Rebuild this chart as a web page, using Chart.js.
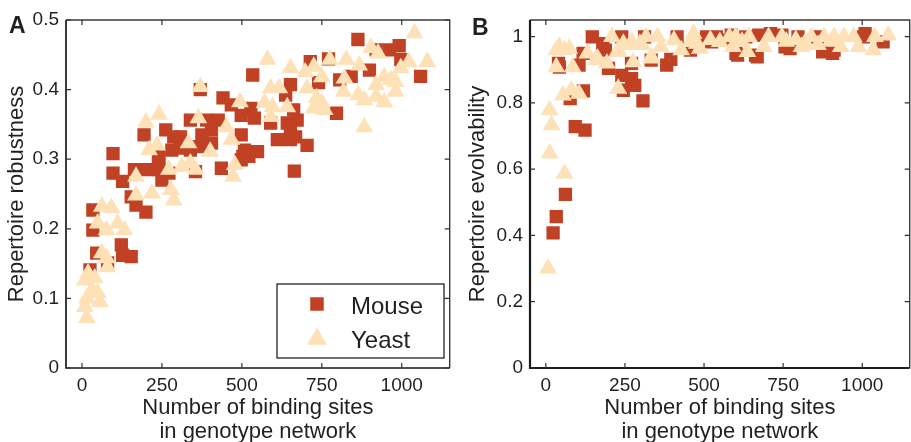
<!DOCTYPE html>
<html><head><meta charset="utf-8">
<script src="https://cdn.jsdelivr.net/npm/chart.js@4.4.1/dist/chart.umd.min.js"></script>
<style>
html,body{margin:0;padding:0;background:#fff;overflow:hidden;width:911px;height:442px;}
#wa{position:absolute;left:0;top:0;}
#wb{position:absolute;left:460px;top:0;}
canvas{display:block;}
</style></head><body>
<div id="wa"><canvas id="ca" width="460" height="460"></canvas></div>
<div id="wb"><canvas id="cb" width="460" height="460"></canvas></div>
<script>
// ---- tick labels / categories ----
const xTicks = [0, 250, 500, 750, 1000];
const yTicksA = [0, 0.1, 0.2, 0.3, 0.4, 0.5];
const yTicksB = [0, 0.2, 0.4, 0.6, 0.8, 1];
const seriesNames = ['Mouse', 'Yeast'];
const panelLabels = ['A', 'B'];
const xTitle = ['Number of binding sites', 'in genotype network'];
const yTitleA = 'Repertoire robustness';
const yTitleB = 'Repertoire evolvability';

// ---- Panel A: Mouse ----
const mouseA_x = [863,992,961,920,899,1059,997,714,771,534,806,842,740,370,652,637,441,467,528,498,539,796,662,673,642,590,339,390,426,405,262,287,308,194,375,498,652,668,611,652,704,549,508,498,97,339,308,281,241,364,405,97,127,164,205,241,250,272,355,436,503,664,154,169,200,34,34,123,127,154,46,80,25,522,239];
const mouseA_y = [.472,.463,.457,.457,.428,.419,.443,.44,.444,.421,.414,.419,.41,.40,.407,.392,.388,.378,.373,.363,.359,.366,.371,.356,.352,.352,.356,.356,.356,.342,.342,.332,.332,.335,.335,.335,.342,.332,.328,.328,.32,.311,.313,.299,.308,.313,.316,.313,.304,.318,.323,.28,.268,.285,.285,.285,.27,.28,.282,.287,.304,.283,.246,.234,.224,.227,.198,.177,.162,.16,.165,.151,.141,.304,.296];
// ---- Panel A: Yeast ----
const yeastA_x = [1040,580,904,926,827,867,775,1022,1080,997,652,725,698,750,821,945,966,920,981,590,617,370,704,818,981,864,883,920,945,734,750,725,759,494,571,596,642,590,364,451,883,200,241,467,333,235,210,401,478,472,339,312,355,272,169,278,287,219,169,62,92,77,49,111,133,62,77,80,19,40,9,31,49,15,56,9,15];
const yeastA_y = [.481,.443,.46,.452,.443,.435,.443,.44,.44,.431,.431,.433,.425,.418,.416,.418,.414,.407,.411,.402,.402,.404,.402,.397,.397,.392,.385,.39,.382,.388,.381,.373,.371,.382,.381,.375,.375,.361,.359,.346,.346,.353,.364,.328,.323,.32,.313,.311,.292,.275,.294,.289,.285,.285,.275,.256,.241,.251,.248,.232,.23,.198,.208,.208,.198,.165,.158,.145,.136,.129,.126,.112,.108,.1,.095,.088,.072];

// ---- Panel B: Mouse ----
const mouseB_x = [23,33,62,93,124,119,77,40,43,105,118,307,281,245,271,240,382,395,198,147,188,180,240,271,333,312,415,457,508,524,539,565,586,601,606,632,663,668,673,710,746,756,772,797,859,875,906,911,1004,1009,1066];
const mouseB_y = [.408,.457,.524,.728,.718,.836,.813,.919,.908,.914,.949,.806,.853,.838,.873,.883,.914,.931,.904,.999,.959,.979,.999,.919,.929,.999,.999,.959,.999,.984,.999,.989,1.004,.949,.944,.999,.944,.939,1.004,1.009,1.004,.969,.964,.999,.999,.954,.949,.959,.999,1.009,.984];
// ---- Panel B: Yeast ----
const yeastB_x = [7,12,18,12,59,54,80,105,33,43,59,74,33,85,131,157,193,209,229,229,245,271,276,297,333,317,353,364,405,428,457,467,477,487,580,591,642,637,689,704,746,808,818,839,880,911,932,942,973,988,1035,1040,1082,164,226,267,304,335,550,600,620,520,760,790,860,900];
const yeastB_y = [.301,.648,.733,.778,.587,.823,.838,.828,.959,.969,.959,.964,.908,.908,.949,.929,.919,.999,.959,.843,.979,.984,.923,.979,.939,.999,.999,.969,.989,.959,.984,1.009,.979,.964,.999,.969,.999,.954,.969,.999,.999,.969,.979,.999,.999,.999,.969,.999,.999,.969,.959,.999,1.004,.934,.954,.975,.975,.934,.984,.999,.985,.99,.985,.99,.975,.985];

const MOUSE_COLOR = '#C04123';
const YEAST_COLOR = '#FEE1B6';
const TEXT_COLOR = '#231f20';

Chart.defaults.font.family = "'Liberation Sans', Arial, Helvetica, sans-serif";
Chart.defaults.color = TEXT_COLOR;

function pts(xs, ys){ return xs.map((v,i)=>({x:v, y:ys[i]})); }

function framePlugin(o){
  return {
    id: 'frame' + o.label,
    afterDatasetsDraw(chart){
      const {ctx, chartArea:a, scales:{x, y}} = chart;
      ctx.save();
      // box
      ctx.strokeStyle = '#3a3a3a';
      ctx.lineWidth = 1.4;
      ctx.beginPath();
      ctx.moveTo(a.left, a.top); ctx.lineTo(a.right, a.top); ctx.lineTo(a.right, a.bottom);
      ctx.stroke();
      ctx.strokeStyle = '#1a1a1a';
      ctx.lineWidth = o.axisWidth;
      ctx.beginPath();
      ctx.moveTo(a.left, a.top); ctx.lineTo(a.left, a.bottom); ctx.lineTo(a.right, a.bottom);
      ctx.stroke();
      // inward ticks
      ctx.strokeStyle = '#333';
      ctx.lineWidth = 1.2;
      const tl = 5;
      ctx.beginPath();
      x.ticks.forEach(t=>{
        const px = x.getPixelForValue(t.value);
        ctx.moveTo(px, a.bottom); ctx.lineTo(px, a.bottom - tl);
        ctx.moveTo(px, a.top); ctx.lineTo(px, a.top + tl);
      });
      y.ticks.forEach(t=>{
        const py = y.getPixelForValue(t.value);
        ctx.moveTo(a.left, py); ctx.lineTo(a.left + tl, py);
        ctx.moveTo(a.right, py); ctx.lineTo(a.right - tl, py);
      });
      ctx.stroke();
      // panel label
      ctx.fillStyle = TEXT_COLOR;
      ctx.font = "bold 23px 'Liberation Sans', Arial, sans-serif";
      ctx.textAlign = 'left';
      ctx.textBaseline = 'alphabetic';
      ctx.fillText(o.label, o.labelX, o.labelY);
      // legend
      if (o.legend){
        const L = o.legend;
        ctx.fillStyle = '#fff';
        ctx.fillRect(L.x, L.y, L.w, L.h);
        ctx.strokeStyle = '#111';
        ctx.lineWidth = 1.2;
        ctx.strokeRect(L.x, L.y, L.w, L.h);
        const ds = chart.data.datasets;
        // square
        ctx.fillStyle = ds[0].backgroundColor;
        const s = 13.5;
        ctx.fillRect(L.mx - s/2, L.y1 - s/2, s, s);
        // triangle
        ctx.fillStyle = ds[1].backgroundColor;
        const r = 11.5;
        ctx.beginPath();
        ctx.moveTo(L.mx, L.y2 - r);
        ctx.lineTo(L.mx + r*Math.sin(Math.PI/3), L.y2 + r/2);
        ctx.lineTo(L.mx - r*Math.sin(Math.PI/3), L.y2 + r/2);
        ctx.closePath(); ctx.fill();
        ctx.fillStyle = TEXT_COLOR;
        ctx.font = "24px 'Liberation Sans', Arial, sans-serif";
        ctx.textBaseline = 'middle';
        ctx.fillText(ds[0].label, L.tx, L.y1 + 3);
        ctx.fillText(ds[1].label, L.tx, L.y2 + 2);
      }
      ctx.restore();
    }
  };
}

function makeChart(id, c){
  return new Chart(document.getElementById(id), {
    type: 'scatter',
    data: { datasets: [
      { label: seriesNames[0], data: c.mouse, pointStyle: 'rect', pointRadius: 9.4, backgroundColor: MOUSE_COLOR, borderWidth: 0, order: 1 },
      { label: seriesNames[1], data: c.yeast, pointStyle: 'triangle', pointRadius: 10.3, backgroundColor: YEAST_COLOR, borderWidth: 0, order: 0 }
    ]},
    options: {
      responsive: false, animation: false, events: [],
      layout: { padding: { top: 20, right: c.padRight, left: 0, bottom: 0 } },
      plugins: { legend: { display: false }, tooltip: { enabled: false } },
      scales: {
        x: {
          type: 'linear', min: -50, max: 1150,
          afterBuildTicks(s){ s.ticks = xTicks.map(v=>({value:v})); },
          afterFit(s){ s.height = 92; },
          grid: { display: false, drawTicks: false }, border: { display: false },
          ticks: { padding: 6, font: { size: 19 }, color: TEXT_COLOR, callback: v => String(v), maxRotation: 0, autoSkip: false },
          title: { display: true, text: xTitle, font: { size: 22, lineHeight: 1.1 }, color: TEXT_COLOR, padding: { top: 0, bottom: 16 } }
        },
        y: {
          type: 'linear', min: 0, max: c.yMax,
          afterBuildTicks(s){ s.ticks = c.yTicks.map(v=>({value:v})); },
          afterFit(s){ s.width = c.yWidth; },
          grid: { display: false, drawTicks: false }, border: { display: false },
          ticks: { padding: 7, font: { size: 19 }, color: TEXT_COLOR, callback: v => String(v), autoSkip: false },
          title: { display: true, text: c.yTitle, font: { size: 22, lineHeight: 1.1 }, color: TEXT_COLOR, padding: { top: c.yTitlePad, bottom: 0 } }
        }
      }
    },
    plugins: [framePlugin(c.frame)]
  });
}

makeChart('ca', {
  mouse: pts(mouseA_x, mouseA_y), yeast: pts(yeastA_x, yeastA_y),
  yMax: 0.5, yTicks: yTicksA, yWidth: 66, padRight: 5, yTitle: yTitleA, yTitlePad: 5,
  frame: { label: panelLabels[0], labelX: 9, labelY: 33, axisWidth: 1.7,
    legend: { x: 277, y: 284, w: 167, h: 74, mx: 317, y1: 304, y2: 339, tx: 351 } }
});
makeChart('cb', {
  mouse: pts(mouseB_x, mouseB_y), yeast: pts(yeastB_x, yeastB_y),
  yMax: 1.05, yTicks: yTicksB, yWidth: 70, padRight: 3, yTitle: yTitleB, yTitlePad: 6,
  frame: { label: panelLabels[1], labelX: 12, labelY: 35, axisWidth: 2.2, legend: null }
});
</script>
</body></html>
